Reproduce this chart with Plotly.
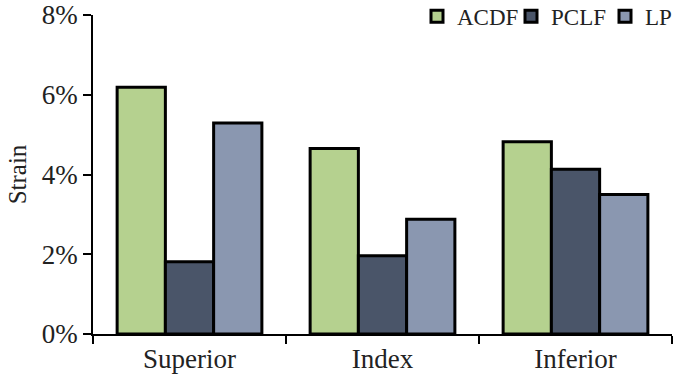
import plotly.graph_objects as go

categories = ["Superior", "Index", "Inferior"]
series_names = ["ACDF", "PCLF", "LP"]
acdf = [0.0619, 0.0465, 0.0482]
pclf = [0.0181, 0.0196, 0.0413]
lp = [0.0529, 0.0288, 0.0350]
colors = ["#b5d18f", "#4a5569", "#8a97b0"]
y_ticks = [0, 0.02, 0.04, 0.06, 0.08]

fig = go.Figure()
for name, vals, col in zip(series_names, [acdf, pclf, lp], colors):
    fig.add_trace(go.Bar(
        x=categories, y=vals, name=name,
        marker=dict(color=col, line=dict(color="black", width=3)),
    ))

font_family = "Liberation Serif, Times New Roman, serif"
fig.update_layout(
    width=676, height=385,
    barmode="group", bargap=0.25, bargroupgap=0,
    plot_bgcolor="white", paper_bgcolor="white",
    margin=dict(l=93, r=4, t=15, b=51, autoexpand=False),
    font=dict(family=font_family, size=27, color="#222"),
    legend=dict(orientation="h", x=(417 - 93) / 579, xanchor="left",
                y=1.063, yanchor="top",
                font=dict(size=23), itemwidth=30, tracegroupgap=0,
                entrywidth=49, entrywidthmode="pixels",
                bgcolor="rgba(0,0,0,0)"),
    xaxis=dict(showline=True, linecolor="black", linewidth=1.5,
               ticks="outside", tickson="boundaries", ticklen=8,
               tickcolor="black", tickwidth=1.5,
               tickfont=dict(size=27), range=[-0.5, 2.5]),
    yaxis=dict(showline=True, linecolor="black", linewidth=1.5,
               ticks="outside", ticklen=8, tickcolor="black", tickwidth=1.5,
               tickvals=y_ticks, tickformat=".0%", range=[0, 0.08],
               ticklabeloverflow="allow",
               showgrid=False, zeroline=False,
               title=dict(text="Strain", font=dict(size=25), standoff=8),
               tickfont=dict(size=27)),
)
fig.write_html("out.html")
